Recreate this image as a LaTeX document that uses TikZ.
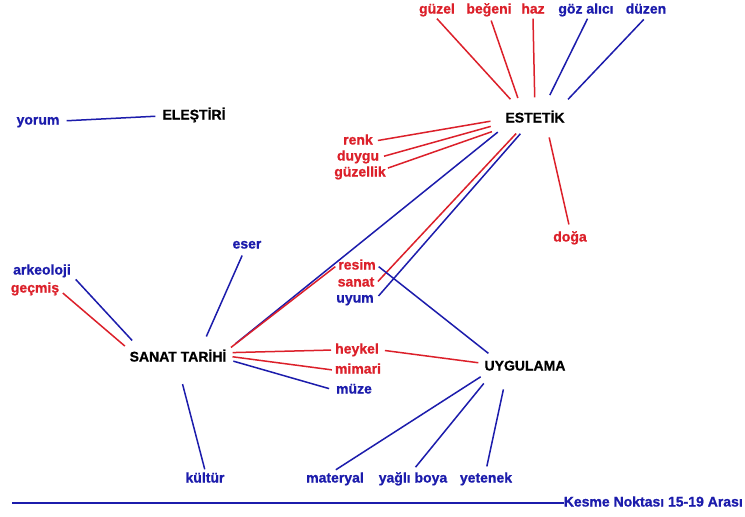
\documentclass[tikz,border=0pt]{standalone}
\usepackage{fontspec}
\setmainfont[BoldFeatures={FakeBold=0.8}]{Liberation Sans}
\definecolor{cred}{RGB}{220,32,42}
\definecolor{cblue}{RGB}{28,28,172}
\begin{document}
\begin{tikzpicture}[x=1pt,y=-1pt,
  lbl/.style={font=\bfseries\fontsize{14}{16}\selectfont, inner sep=2pt, text height=10pt, text depth=3pt},
  rl/.style={lbl, text=cred},
  bl/.style={lbl, text=cblue},
  kl/.style={lbl, text=black},
  rc/.style={draw=cred, line width=1.5pt},
  bc/.style={draw=cblue, line width=1.5pt}]
\fill[white] (0,0) rectangle (745,517);
\useasboundingbox (0,0) rectangle (745,517);
% nodes
\node[rl] (guzel) at (437,10) {güzel};
\node[rl] (begeni) at (489,10) {beğeni};
\node[rl] (haz) at (533,10) {haz};
\node[bl] (goz) at (586,10) {göz alıcı};
\node[bl] (duzen) at (646,10) {düzen};
\node[kl] (estetik) at (535,119) {ESTETİK};
\node[rl] (renk) at (358,141) {renk};
\node[rl] (duygu) at (358,157) {duygu};
\node[rl] (guzellik) at (360,173) {güzellik};
\node[rl] (doga) at (570,238) {doğa};
\node[kl] (elestiri) at (194,116) {ELEŞTİRİ};
\node[bl] (yorum) at (38,121) {yorum};
\node[bl] (eser) at (247,245) {eser};
\node[bl] (arkeoloji) at (42,271) {arkeoloji};
\node[rl] (gecmis) at (35,289) {geçmiş};
\node[kl] (st) at (178,358) {SANAT TARİHİ};
\node[rl] (resim) at (357,266) {resim};
\node[rl] (sanat) at (356,283) {sanat};
\node[bl] (uyum) at (355,299) {uyum};
\node[rl] (heykel) at (357,350) {heykel};
\node[rl] (mimari) at (358,370) {mimari};
\node[bl] (muze) at (354,390) {müze};
\node[kl] (uyg) at (525,367) {UYGULAMA};
\node[bl] (kultur) at (205,479) {kültür};
\node[bl] (materyal) at (335,479) {materyal};
\node[bl] (yagli) at (413,479) {yağlı boya};
\node[bl] (yetenek) at (486,479) {yetenek};
\node[bl, anchor=east, inner sep=0pt] (kesme) at (743,503) {Kesme Noktası 15-19 Arası};
\coordinate (cutstart) at (12,503);
% connectors around ESTETIK
\draw[rc, shorten >=15pt] (guzel.south) -- (estetik.149);
\draw[rc, shorten >=13pt, shorten <=2pt] (begeni.-80) -- (estetik.146);
\draw[rc, shorten >=13pt] (haz.south) -- (estetik.north);
\draw[bc, shorten >=17pt] (goz.-80) -- (estetik.50);
\draw[bc, shorten >=15pt, shorten <=1pt] (duzen.-100) -- (estetik.21);
\draw[rc, shorten >=13pt, shorten <=3pt] (renk.east) -- (estetik.west);
\draw[rc, shorten >=13pt, shorten <=3pt] (duygu.east) -- (estetik.187);
\draw[rc, shorten >=12pt] (guzellik.10) -- (estetik.south west);
\draw[rc, shorten <=10pt, shorten >=5pt] (estetik.-36) -- (doga.north);
\draw[bc, shorten <=7pt, shorten >=9pt] (estetik.south west) -- (st.north east);
\draw[rc, shorten <=8pt, shorten >=2pt] (estetik.213) -- (sanat.east);
\draw[bc, shorten <=8pt, shorten >=4pt] (estetik.223) -- (uyum.east);
% ELESTIRI
\draw[bc, shorten <=5pt, shorten >=5pt] (yorum.east) -- (elestiri.west);
% SANAT TARIHI
\draw[rc, shorten <=3pt, shorten >=1pt] (st.north east) -- (resim.west);
\draw[rc, shorten <=4pt, shorten >=2pt] (st.6) -- (heykel.west);
\draw[rc, shorten <=4pt, shorten >=1pt] (st.2) -- (mimari.west);
\draw[bc, shorten <=5pt, shorten >=5pt] (st.-2) -- (muze.west);
\draw[bc, shorten <=18pt, shorten >=1pt] (st.south) -- (kultur.north);
\draw[bc, shorten <=2pt, shorten >=14pt] (eser.-115) -- (st.21);
\draw[bc, shorten <=4pt, shorten >=12pt] (arkeoloji.-10) -- (st.167);
\draw[rc, shorten <=2pt, shorten >=5pt] (gecmis.-6) -- (st.170);
% UYGULAMA
\draw[bc, shorten <=1pt, shorten >=8pt] (resim.east) -- (uyg.164);
\draw[rc, shorten <=4pt, shorten >=4pt] (heykel.east) -- (uyg.175);
\draw[bc, shorten <=2pt, shorten >=1pt] (uyg.south west) -- (materyal.north);
\draw[bc, shorten <=10pt, shorten >=4pt] (uyg.194) -- (yagli.north);
\draw[bc, shorten <=14pt, shorten >=4pt] (uyg.205) -- (yetenek.north);
% cut line
\draw[draw=cblue, line width=2.8pt] (cutstart) -- (kesme.west);
\end{tikzpicture}
\end{document}
